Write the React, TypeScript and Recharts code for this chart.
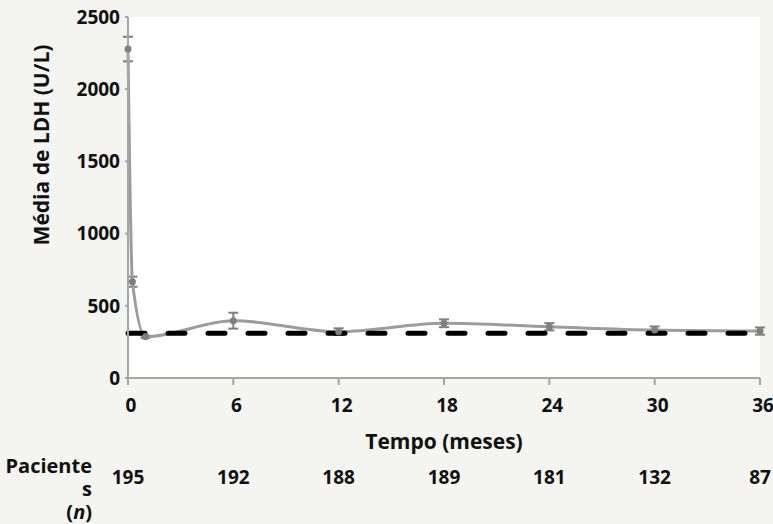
import React from "react";
import { LineChart, Line, XAxis, YAxis, CartesianGrid, ReferenceLine, ErrorBar } from "recharts";

// months since start, mean LDH (U/L) and its error
const months = [0, 0.25, 1, 6, 12, 18, 24, 30, 36];
const meanLdh = [2278, 667, 286, 397, 321, 379, 355, 332, 325];
const ldhError = [85, 35, 8, 55, 23, 27, 25, 25, 25];

// patients row under the axis
const nTicks = [0, 6, 12, 18, 24, 30, 36];
const nPatients = [195, 192, 188, 189, 181, 132, 87];

const yTicks = [0, 500, 1000, 1500, 2000, 2500];
const uln = 310;

const data = months.map((m, i) => ({ month: m, ldh: meanLdh[i], err: ldhError[i] }));

const FONT = "'Open Sans', Lato, sans-serif";
const BG = "#f4f4f0";
const AXIS = "#a6a6a6";

const App: React.FC = () => {
    return (
        <div style={{ position: "absolute", left: 0, top: 0, width: 773, height: 524, background: BG, fontFamily: FONT }}>
            <LineChart
                width={773}
                height={524}
                data={data}
                margin={{ top: 17, right: 13, left: 0, bottom: 16 }}
            >
                <CartesianGrid xAxisId="a" fill="#ffffff" horizontal={false} vertical={false} />
                <XAxis
                    xAxisId="a"
                    dataKey="month"
                    type="number"
                    domain={[0, 36]}
                    ticks={nTicks}
                    height={80}
                    stroke={AXIS}
                    strokeWidth={2}
                    tickSize={7}
                    tickMargin={14}
                    tick={{ fill: "#111", fontSize: 19, fontWeight: 700, fontFamily: FONT, dx: 3 }}
                    label={{ value: "Tempo (meses)", position: "insideBottom", offset: 9, fill: "#111", fontSize: 21, fontWeight: 700, fontFamily: FONT }}
                />
                <XAxis
                    xAxisId="b"
                    dataKey="month"
                    type="number"
                    domain={[0, 36]}
                    ticks={nTicks}
                    height={50}
                    axisLine={false}
                    tickLine={false}
                    tickSize={0}
                    tickMargin={13}
                    tickFormatter={(v: number) => String(nPatients[nTicks.indexOf(v)] ?? "")}
                    tick={{ fill: "#111", fontSize: 19, fontWeight: 700, fontFamily: FONT }}
                />
                <YAxis
                    domain={[0, 2500]}
                    ticks={yTicks}
                    width={128}
                    stroke={AXIS}
                    strokeWidth={2}
                    tickSize={3}
                    tickMargin={5}
                    tick={{ fill: "#111", fontSize: 19, fontWeight: 700, fontFamily: FONT }}
                    label={{
                        content: () => (
                            <text
                                x={49}
                                y={145}
                                transform="rotate(-90 49 145)"
                                textAnchor="middle"
                                fill="#111"
                                fontSize={21}
                                fontWeight={700}
                                fontFamily={FONT}
                            >
                                Média de LDH (U/L)
                            </text>
                        ),
                    }}
                />
                <Line
                    xAxisId="a"
                    type="monotone"
                    dataKey="ldh"
                    stroke="#9c9c9c"
                    strokeWidth={3}
                    dot={{ r: 2, fill: "#7f7f7f", stroke: "#7f7f7f" }}
                    isAnimationActive={false}
                >
                    <ErrorBar dataKey="err" width={5} stroke="#7f7f7f" strokeWidth={2} direction="y" />
                </Line>
                <ReferenceLine
                    xAxisId="a"
                    y={uln}
                    stroke="#000"
                    strokeWidth={5}
                    strokeDasharray="17 23"
                    strokeLinecap="round"
                />
            </LineChart>
            <div
                style={{
                    position: "absolute",
                    right: 773 - 92,
                    top: 454,
                    textAlign: "right",
                    fontSize: 20,
                    fontWeight: 700,
                    lineHeight: "23px",
                    color: "#111",
                }}
            >
                Paciente
                <br />s
                <br />(<i>n</i>)
            </div>
        </div>
    );
};

export default App;
